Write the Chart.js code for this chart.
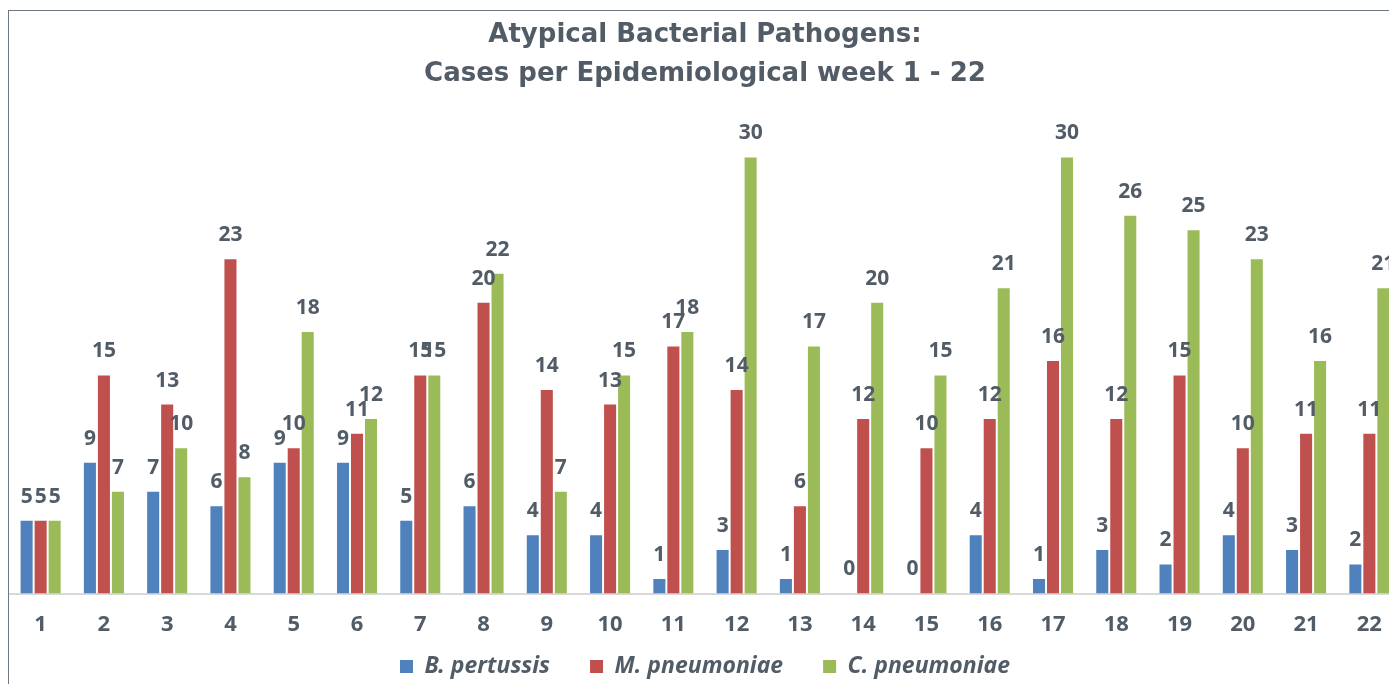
<!DOCTYPE html>
<html>
<head>
<meta charset="utf-8">
<script src="https://cdn.jsdelivr.net/npm/chart.js@4.4.0/dist/chart.umd.min.js"></script>
<style>
  html, body { margin: 0; padding: 0; background: #fff; overflow: hidden; }
  .frame {
    position: absolute; left: 8px; top: 10px;
    width: 1392px; height: 673px;
    border-top: 1.5px solid #6d7781; border-left: 1.5px solid #6d7781;
  }
  .frame canvas { display: block; }
</style>
</head>
<body>
<div class="frame"><canvas id="chart" width="1392" height="673"></canvas></div>
<script>
// epi weeks 1-22
const weeks = ["1","2","3","4","5","6","7","8","9","10","11","12","13","14","15","16","17","18","19","20","21","22"];
const pertussis = [5, 9, 7, 6, 9, 9, 5, 6, 4, 4, 1, 3, 1, 0, 0, 4, 1, 3, 2, 4, 3, 2];
const mPneumoniae = [5, 15, 13, 23, 10, 11, 15, 20, 14, 13, 17, 14, 6, 12, 10, 12, 16, 12, 15, 10, 11, 11];
const cPneumoniae = [5, 7, 10, 8, 18, 12, 15, 22, 7, 15, 18, 30, 17, 20, 15, 21, 30, 26, 25, 23, 16, 21];
const seriesNames = ["B. pertussis", "M. pneumoniae", "C. pneumoniae"];

const textColor = "#525c67";
const fontFamily = "'Noto Sans', sans-serif";

// draws the value over each bar
const valueLabels = {
  id: "valueLabels",
  afterDatasetsDraw(chart) {
    const ctx = chart.ctx;
    ctx.save();
    ctx.font = "bold 21px " + fontFamily;
    ctx.fillStyle = textColor;
    ctx.textAlign = "center";
    ctx.textBaseline = "middle";
    chart.data.datasets.forEach(function (ds, i) {
      chart.getDatasetMeta(i).data.forEach(function (bar, j) {
        ctx.fillText(ds.data[j], bar.x, bar.y - 24);
      });
    });
    ctx.restore();
  }
};

// x axis is kept short so the legend sits close; let its labels draw below it anyway
const unclipTicks = {
  id: "unclipTicks",
  afterLayout(chart) {
    chart.scales.x.bottom = chart.height;
  }
};

new Chart(document.getElementById("chart"), {
  type: "bar",
  data: {
    labels: weeks,
    datasets: [
      { label: seriesNames[0], data: pertussis, backgroundColor: "#4f81bd" },
      { label: seriesNames[1], data: mPneumoniae, backgroundColor: "#c0504d" },
      { label: seriesNames[2], data: cPneumoniae, backgroundColor: "#9bbb59" }
    ]
  },
  options: {
    responsive: false,
    animation: false,
    layout: { padding: 0 },
    datasets: { bar: { categoryPercentage: 0.664, barPercentage: 0.86 } },
    scales: {
      x: {
        grid: { display: false, drawTicks: false },
        border: { display: true, color: "#d9d9d9", width: 2 },
        ticks: { color: textColor, font: { family: fontFamily, size: 22, weight: "bold" }, padding: 18 },
        afterFit(scale) { scale.height = 21.5; }
      },
      y: { display: false, min: 0, max: 34.37 }
    },
    plugins: {
      title: {
        display: true,
        text: ["Atypical Bacterial Pathogens:", "Cases per Epidemiological week 1 - 22"],
        color: textColor,
        font: { family: "'DejaVu Sans', sans-serif", size: 26, weight: "bold", lineHeight: 1.5 },
        padding: { top: 5, bottom: 0 }
      },
      legend: {
        position: "bottom",
        maxHeight: 69,
        labels: {
          color: textColor,
          font: { family: fontFamily, size: 23, weight: "bold", style: "italic" },
          boxWidth: 13, boxHeight: 13, padding: 40
        }
      },
      tooltip: { enabled: false }
    }
  },
  plugins: [valueLabels, unclipTicks]
});
</script>
</body>
</html>
